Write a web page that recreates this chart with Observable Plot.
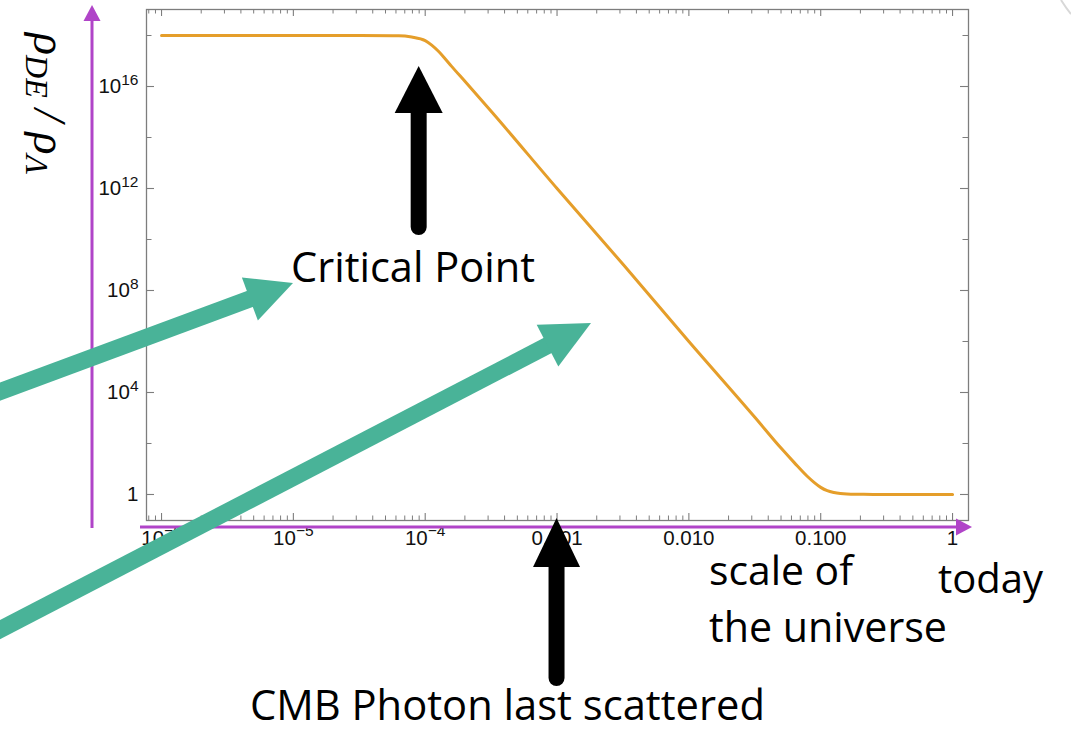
<!DOCTYPE html>
<html>
<head>
<meta charset="utf-8">
<script src="https://cdn.jsdelivr.net/npm/d3@7"></script>
<script src="https://cdn.jsdelivr.net/npm/@observablehq/plot@0.6"></script>
<style>
  html, body { margin: 0; padding: 0; background: #fff; }
  #chart { position: relative; width: 1071px; height: 730px; overflow: hidden; }
  #chart svg { position: absolute; left: 0; top: 0; }
</style>
</head>
<body>
<div id="chart"></div>
<script>
// Scale factor of the universe a, and the dark-energy density ratio rho_DE / rho_Lambda
const scaleFactor = [
  1e-6, 1e-5, 3.2e-5, 6.3e-5, 7.9e-5, 1e-4, 1.12e-4, 1.26e-4, 1.41e-4, 1.58e-4,
  2e-4, 3.2e-4, 1e-3, 3.2e-3, 1e-2, 3.2e-2, 0.05, 0.063, 0.079, 0.089,
  0.1, 0.112, 0.126, 0.141, 0.158, 0.2, 0.25, 1
];
const densityRatio = [
  1e18, 1e18, 1e18, 9.8e17, 8.7e17, 6.3e17, 4.2e17, 2.4e17, 1.26e17, 6.3e16,
  1.6e16, 1e15, 1e12, 1e9, 1e6, 1e3, 66, 17.8, 5.2, 3.0,
  1.9, 1.41, 1.2, 1.1, 1.05, 1.02, 1, 1
];

// Axis ticks and their labels ("^" marks a superscript exponent)
const xMajorTicks = [1e-6, 1e-5, 1e-4, 1e-3, 1e-2, 1e-1, 1];
const xTickLabels = ["10^\u22126", "10^\u22125", "10^\u22124", "0.001", "0.010", "0.100", "1"];
const yMajorTicks = [1, 1e4, 1e8, 1e12, 1e16];
const yTickLabels = ["1", "10^4", "10^8", "10^12", "10^16"];
const yMinorTicks = [1e2, 1e6, 1e10, 1e14, 1e18];

// Minor x ticks: 2..9 within each decade
const xMinorTicks = [];
for (let e = -7; e <= 0; e++) {
  for (let m = 2; m <= 9; m++) xMinorTicks.push(m * 10 ** e);
}

const W = 1071, H = 730;
const mL = 146, mR = 103, mT = 9, mB = 210;
const innerW = W - mL - mR, innerH = H - mT - mB;
const xDomain = [10 ** -6.114, 10 ** 0.121];
const yDomain = [10 ** -1.02, 10 ** 19.02];
const minorX = xMinorTicks.filter(d => d > xDomain[0] && d < xDomain[1]);

const frameGray = "#7d7d7d";
const curveColor = "#E59E2A";
const tickFont = "Liberation Sans, Arimo, Arial, sans-serif";

const data = scaleFactor.map((a, i) => ({a, rho: densityRatio[i]}));

const chart = Plot.plot({
  width: W,
  height: H,
  marginLeft: mL,
  marginRight: mR,
  marginTop: mT,
  marginBottom: mB,
  style: {background: "transparent", overflow: "visible", fontFamily: tickFont},
  x: {type: "log", domain: xDomain, axis: null},
  y: {type: "log", domain: yDomain, axis: null},
  marks: [
    Plot.frame({stroke: frameGray, strokeWidth: 1.3}),
    // inward ticks on all four sides
    Plot.ruleX(xMajorTicks, {x: d => d, stroke: frameGray, strokeWidth: 1.1, insetTop: innerH - 7}),
    Plot.ruleX(minorX, {x: d => d, stroke: frameGray, strokeWidth: 1, insetTop: innerH - 4.5}),
    Plot.ruleX(xMajorTicks, {x: d => d, stroke: frameGray, strokeWidth: 1.1, insetBottom: innerH - 7}),
    Plot.ruleX(minorX, {x: d => d, stroke: frameGray, strokeWidth: 1, insetBottom: innerH - 4.5}),
    Plot.ruleY(yMajorTicks, {y: d => d, stroke: frameGray, strokeWidth: 1.1, insetRight: innerW - 8}),
    Plot.ruleY(yMinorTicks, {y: d => d, stroke: frameGray, strokeWidth: 1, insetRight: innerW - 5.5}),
    Plot.ruleY(yMajorTicks, {y: d => d, stroke: frameGray, strokeWidth: 1.1, insetLeft: innerW - 8}),
    Plot.ruleY(yMinorTicks, {y: d => d, stroke: frameGray, strokeWidth: 1, insetLeft: innerW - 5.5}),
    // tick labels
    Plot.text(xMajorTicks, {
      x: d => d, text: (d, i) => xTickLabels[i], frameAnchor: "bottom", dy: 24,
      fontSize: 20.5, fill: "#111"
    }),
    Plot.text(yMajorTicks, {
      y: d => d, text: (d, i) => yTickLabels[i], frameAnchor: "left", dx: -8, textAnchor: "end",
      fontSize: 20.5, fill: "#111"
    }),
    // density ratio curve
    Plot.line(data, {x: "a", y: "rho", stroke: curveColor, strokeWidth: 3, curve: "monotone-x"})
  ]
});

document.getElementById("chart").appendChild(chart);

const svg = d3.select(chart);
const sx = chart.scale("x");

// Tick label typography and superscript exponents
svg.selectAll("text").each(function () {
  const t = d3.select(this)
    .style("font-family", tickFont)
    .style("font-size", "20.5px");
  const parts = this.textContent.split("^");
  if (parts.length === 2) {
    t.text(null);
    t.append("tspan").text(parts[0]);
    t.append("tspan").style("font-size", "15.5px").attr("dy", "-0.55em").text(parts[1]);
  }
});

const ann = svg.append("g")
  .attr("class", "annotations")
  .attr("text-anchor", "start");

// Filled block arrow: shaft + triangular head
function blockArrow(g, x1, y1, x2, y2, {shaft, headW, headL, color, cap = "butt"}) {
  const dx = x2 - x1, dy = y2 - y1, L = Math.hypot(dx, dy);
  const ux = dx / L, uy = dy / L, px = -uy, py = ux;
  const bx = x2 - ux * headL, by = y2 - uy * headL;
  g.append("line")
    .attr("x1", x1).attr("y1", y1).attr("x2", bx + ux * 2).attr("y2", by + uy * 2)
    .attr("stroke", color).attr("stroke-width", shaft).attr("stroke-linecap", cap);
  g.append("path")
    .attr("d", `M${x2},${y2}L${bx + px * headW / 2},${by + py * headW / 2}L${bx - px * headW / 2},${by - py * headW / 2}Z`)
    .attr("fill", color);
}

// Purple axis arrows
const purple = "#B044C8";
blockArrow(ann, 92, 528, 92, 5, {shaft: 3, headW: 17, headL: 16, color: purple});
blockArrow(ann, 140, 527, 972, 527, {shaft: 3, headW: 17, headL: 16, color: purple});

// Black arrows marking the critical point and CMB last scattering
const critX = sx.apply(9e-5);
blockArrow(ann, critX, 227, critX, 66, {shaft: 16, headW: 48, headL: 47, color: "#000", cap: "round"});
const cmbX = sx.apply(1e-3);
blockArrow(ann, cmbX, 678, cmbX, 518, {shaft: 16, headW: 47, headL: 49, color: "#000", cap: "round"});

// Teal pointer arrows
const teal = "#49B398";
blockArrow(ann, -20, 399, 293, 283, {shaft: 17, headW: 46, headL: 46, color: teal});
blockArrow(ann, -20, 640, 591, 323, {shaft: 17, headW: 47, headL: 49, color: teal});

// Annotation text, sized to span a given width
function label(str, x, y, w) {
  const t = ann.append("text")
    .attr("x", x).attr("y", y)
    .attr("text-anchor", "start")
    .style("font-family", "'Open Sans', sans-serif")
    .attr("font-size", 38).attr("fill", "#000")
    .text(str);
  const len = t.node().getComputedTextLength();
  t.attr("font-size", 38 * w / len);
}
label("Critical Point", 291, 282, 244);
label("scale of", 709, 585, 144);
label("the universe", 709, 642, 238);
label("today", 938, 593, 105);
label("CMB Photon last scattered", 250, 720, 515);

// Y axis title, rotated to read downward
const yt = ann.append("text")
  .attr("transform", "translate(34,33) rotate(90)")
  .attr("text-anchor", "start")
  .style("font-family", "'Liberation Serif', 'DejaVu Serif', serif")
  .attr("font-style", "italic")
  .attr("font-size", 46)
  .attr("fill", "#000");
yt.append("tspan").text("\u03C1");
yt.append("tspan").attr("font-size", 32).attr("dy", 8).text("DE");
yt.append("tspan").attr("dy", -8).attr("dx", 11).text("/");
yt.append("tspan").attr("dx", 11).text("\u03C1");
yt.append("tspan").attr("font-size", 32).attr("dy", 8).text("\u039B");

// Slide corner edge at the top right
ann.append("path")
  .attr("d", "M1061,0 Q1066,8 1071,14")
  .attr("fill", "none").attr("stroke", "#d8d8d8").attr("stroke-width", 2);
</script>
</body>
</html>
